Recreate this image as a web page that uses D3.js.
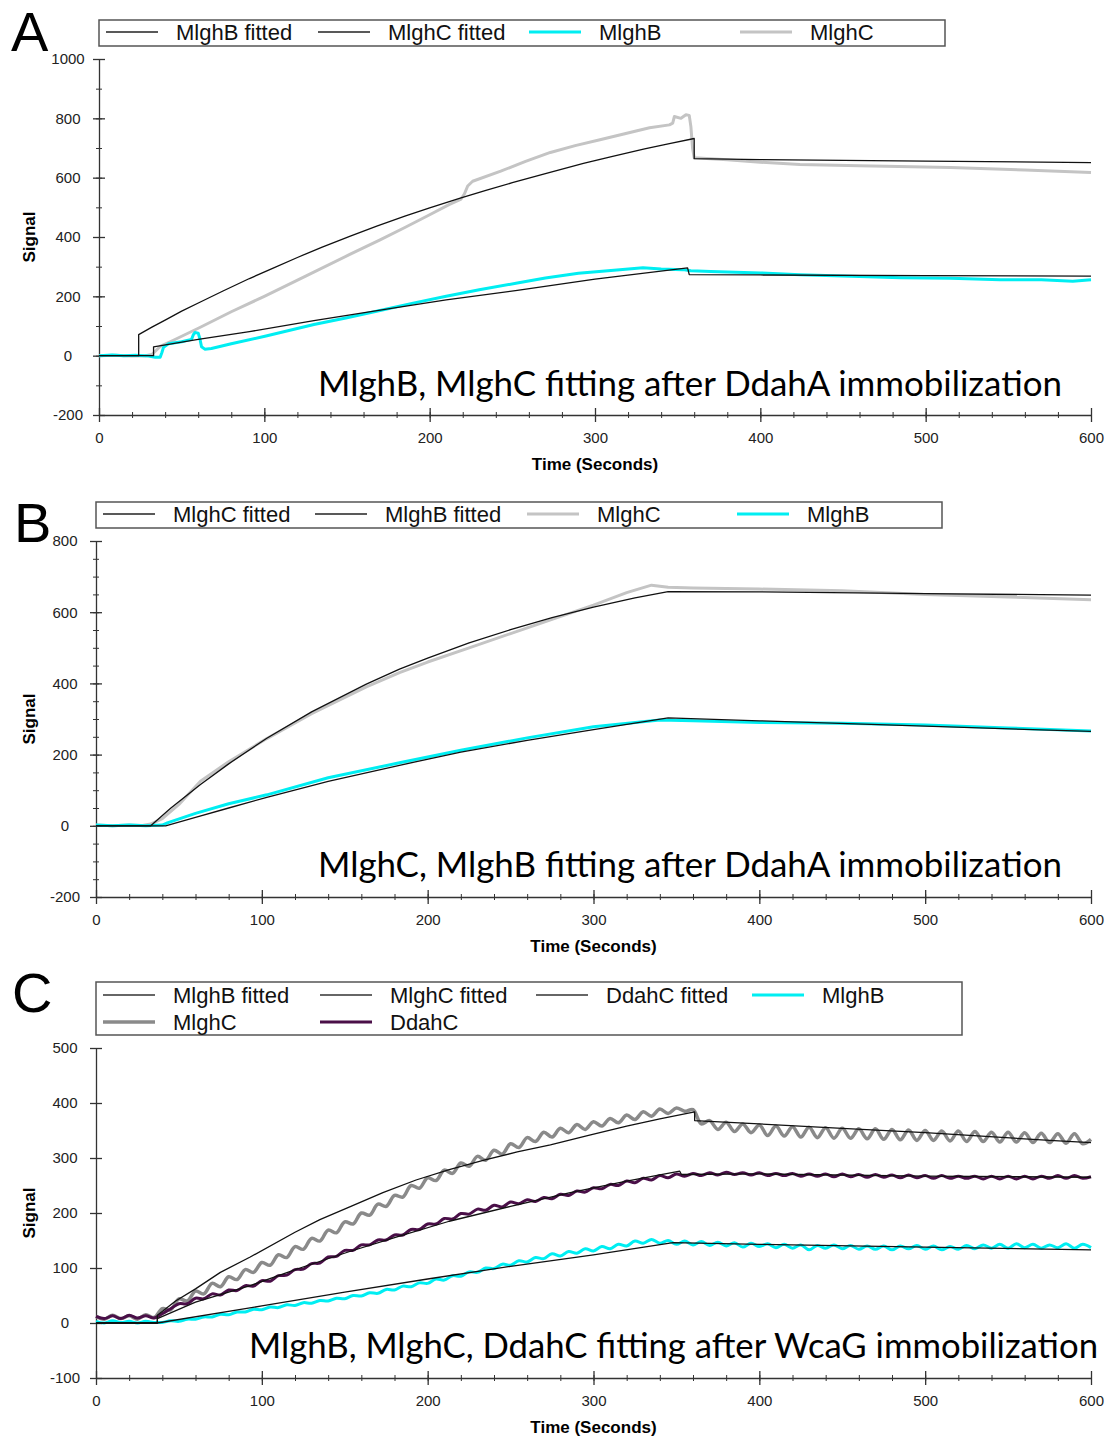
<!DOCTYPE html>
<html>
<head>
<meta charset="utf-8">
<script src="https://cdn.jsdelivr.net/npm/d3@7/dist/d3.min.js"></script>
<style>
  body { margin: 0; background: #fff; }
  svg text { font-family: "Liberation Sans", Arial, sans-serif; }
</style>
</head>
<body>
<svg id="svg" width="1113" height="1439"></svg>
<script>
// ---------- panel A : [seconds, signal] ----------
const aMlghBFit = [[0,0],[33,0],[33,30],[60,55],[91,81],[130,118],[172,155],[210,188],[253,220],[300,258],[356,296],[357,273],[400,272],[500,270],[600,268]];
const aMlghCFit = [[0,0],[24,0],[24,71],[32,96],[40,120],[50,150],[61,180],[75,218],[91,260],[105,294],[120,331],[135,366],[152,403],[168,437],[185,470],[200,498],[218,530],[234,557],[250,583],[270,614],[293,648],[310,671],[330,697],[345,715],[360,732],[360,664],[400,661],[500,656],[600,651]];
const aMlghB = [[0,0],[8,2],[15,0],[22,1],[30,-1],[34,-5],[37,-5],[38,10],[39,28],[42,40],[50,47],[56,55],[57,70],[58,78],[60,76],[61,58],[62,30],[64,22],[68,24],[80,40],[101,66],[130,105],[150,128],[172,155],[190,177],[210,200],[230,222],[253,245],[270,262],[290,278],[315,290],[329,296],[340,292],[353,290],[358,286],[370,284],[400,279],[424,273],[455,268],[485,263],[515,261],[545,256],[570,256],[589,251],[600,256]];
const aMlghC = [[0,0],[10,1],[20,-1],[28,0],[32,4],[37,31],[45,52],[61,95],[80,148],[100,200],[125,268],[152,342],[170,390],[185,432],[200,475],[212,510],[219,528],[221,545],[223,572],[226,588],[243,622],[258,655],[273,685],[288,708],[303,728],[318,748],[333,768],[345,778],[347,784],[348,806],[352,800],[355,812],[357,810],[358,772],[359,700],[360,667],[380,660],[400,652],[424,644],[460,640],[515,634],[560,626],[600,617]];

// ---------- panel B ----------
const bMlghCFit = [[0,0],[33,0],[45,49],[63,116],[80,174],[103,246],[130,320],[163,398],[183,440],[200,471],[225,514],[250,551],[275,585],[300,614],[325,640],[345,658],[400,657],[500,652],[600,648]];
const bMlghBFit = [[0,0],[42,0],[60,24],[80,50],[103,80],[140,125],[183,170],[220,207],[260,240],[300,270],[345,303],[400,295],[500,280],[600,265]];
const bMlghC = [[0,2],[10,0],[20,2],[28,1],[33,5],[40,20],[50,60],[63,125],[80,180],[103,245],[130,315],[163,390],[183,430],[200,460],[225,500],[250,540],[275,580],[300,620],[320,655],[335,676],[345,670],[360,668],[400,665],[450,660],[500,650],[550,643],[600,635]];
const bMlghB = [[0,2],[10,0],[20,2],[30,0],[40,2],[43,8],[60,35],[80,62],[103,87],[140,135],[183,177],[220,212],[260,247],[300,278],[340,297],[360,295],[400,290],[450,288],[500,283],[550,275],[600,266]];

// ---------- panel C (raw traces sampled every 5 s) ----------
const cTime = d3.range(0, 601, 5);
const cMlghC = [12,7,14,8,13,7,15,10,26,24,
  44,40,58,53,72,66,84,79,97,92,
  110,105,124,119,139,134,154,149,169,164,
  184,180,200,196,216,212,232,229,250,245,
  264,259,278,272,291,285,303,296,314,307,
  326,319,337,330,347,338,354,346,361,352,
  366,358,372,364,378,370,384,376,389,381,
  391,385,388,362,368,352,365,348,362,346,
  360,341,358,340,357,338,356,337,355,336,
  354,336,353,335,353,334,352,333,351,332,
  350,332,349,331,349,330,348,330,347,329,
  347,329,346,328,345,328,344,327,344,326,
  334];
const cDdahC = [12,8,13,8,14,9,13,9,17,26,
  35,35,45,44,53,51,60,59,68,67,
  77,76,86,87,97,98,108,109,120,121,
  132,132,142,142,151,151,160,160,170,170,
  180,180,190,189,199,198,207,205,214,211,
  220,217,224,221,228,226,234,232,240,238,
  246,244,252,250,258,255,263,260,268,264,
  271,267,272,268,273,269,274,270,273,269,
  273,268,272,268,272,267,271,267,271,266,
  271,266,270,265,270,265,269,264,269,264,
  268,263,268,263,267,263,267,262,267,262,
  267,262,267,262,267,263,268,263,268,263,
  266];
const cMlghB = [3,0,4,1,3,0,3,1,1,4,
  3,7,7,11,11,16,15,20,20,25,
  24,29,28,33,32,37,36,41,40,45,
  44,50,49,55,54,61,60,67,66,73,
  72,80,78,86,85,93,92,100,99,107,
  105,113,111,119,117,126,122,130,127,135,
  131,139,135,143,140,149,145,152,145,150,
  143,149,142,148,141,147,140,146,138,145,
  139,144,137,143,136,142,133,141,136,142,
  135,141,134,140,134,140,133,140,135,141,
  134,140,133,139,134,141,135,142,136,143,
  136,144,137,143,136,142,137,144,136,143,
  137];
const cMlghBFit = [[0,0],[37,0],[100,31],[150,56],[200,80],[250,103],[300,124],[348,146],[400,143],[500,138],[600,133]];
const cMlghCFit = [[0,0],[37,0],[37,14],[48,40],[60,62],[75,92],[93,120],[120,165],[135,188],[153,211],[173,237],[193,260],[213,279],[234,296],[254,311],[274,324],[297,341],[320,358],[340,371],[361,384],[361,368],[450,354],[500,346],[575,332],[600,328]];
const cDdahCFit = [[0,0],[37,0],[37,8],[60,38],[93,68],[123,100],[153,130],[183,158],[213,185],[250,212],[286,237],[320,258],[352,276],[353,270],[400,271],[500,267],[600,265]];

const xTicks = [0, 100, 200, 300, 400, 500, 600];
const cyan = '#00eef2', lightGrey = '#c4c4c4', midGrey = '#8a8a8a', purple = '#4a0f48';

const svg = d3.select('#svg');

function drawPanel(p) {
  const x = d3.scaleLinear().domain([0, 600]).range([p.left, p.right]);
  const y = d3.scaleLinear().domain(p.yDomain).range([p.bottom, p.top]);
  const g = svg.append('g');
  const axisCol = '#333';

  // minor ticks
  g.append('g').attr('transform', `translate(0,${p.bottom})`)
    .call(d3.axisBottom(x).tickValues(d3.range(0, 601, 20)).tickFormat('').tickSize(3).tickSizeOuter(0))
    .call(a => a.select('.domain').remove())
    .call(a => a.selectAll('line').attr('y1', -3).attr('stroke', axisCol));
  if (p.yMinor) {
    g.append('g').attr('transform', `translate(${p.left},0)`)
      .call(d3.axisLeft(y).tickValues(d3.range(p.yDomain[0], p.yDomain[1] + 1, p.yMinor)).tickFormat('').tickSize(3).tickSizeOuter(0))
      .call(a => a.select('.domain').remove())
      .call(a => a.selectAll('line').attr('x1', 3).attr('stroke', axisCol));
  }

  const yAx = g.append('g').attr('transform', `translate(${p.left},0)`)
    .call(d3.axisLeft(y).tickValues(d3.range(p.yDomain[0], p.yDomain[1] + 1, p.yStep)).tickFormat(d => String(d)).tickSize(6).tickPadding(10).tickSizeOuter(0));
  const xAx = g.append('g').attr('transform', `translate(0,${p.bottom})`)
    .call(d3.axisBottom(x).tickValues(xTicks).tickFormat(d => String(d)).tickSize(7).tickPadding(10).tickSizeOuter(0));
  [yAx, xAx].forEach(a => {
    a.attr('font-size', 15).attr('font-family', '"Liberation Sans", Arial, sans-serif');
    a.select('.domain').attr('stroke', axisCol).attr('stroke-width', 1.3);
    a.selectAll('.tick line').attr('stroke', axisCol).attr('stroke-width', 1.3);
    a.selectAll('.tick text').attr('fill', '#222');
  });
  yAx.selectAll('.tick line').attr('x1', 6);
  yAx.selectAll('.tick text').attr('x', -31).attr('text-anchor', 'middle');
  xAx.selectAll('.tick line').attr('y1', -7);

  // axis titles
  g.append('text')
    .attr('transform', `translate(35,${(p.top + p.bottom) / 2}) rotate(-90)`)
    .attr('text-anchor', 'middle')
    .style('font-size', '17px').style('font-weight', 700)
    .text('Signal');
  g.append('text')
    .attr('x', (p.left + p.right) / 2).attr('y', p.bottom + 55)
    .attr('text-anchor', 'middle')
    .style('font-size', '17px').style('font-weight', 700)
    .text('Time (Seconds)');

  // traces then fits
  p.series.forEach(s => {
    const line = d3.line().x(d => x(d[0])).y(d => y(d[1]))
      .curve(s.smooth ? d3.curveCatmullRom.alpha(0.5) : d3.curveLinear);
    g.append('path').datum(s.data)
      .attr('d', line)
      .attr('fill', 'none')
      .attr('stroke', s.color)
      .attr('stroke-width', s.width)
      .attr('stroke-linejoin', 'round');
  });

  // legend
  const lb = p.legend;
  g.append('rect')
    .attr('x', lb.x0).attr('y', lb.y0)
    .attr('width', lb.x1 - lb.x0).attr('height', lb.y1 - lb.y0)
    .attr('fill', '#fff').attr('stroke', '#555').attr('stroke-width', 1.5);
  lb.items.forEach(it => {
    g.append('line')
      .attr('x1', it.x).attr('x2', it.x + 52)
      .attr('y1', it.y).attr('y2', it.y)
      .attr('stroke', it.color).attr('stroke-width', it.width);
    g.append('text')
      .attr('x', it.x + 70).attr('y', it.y + 8)
      .style('font-size', '22px').attr('fill', '#111')
      .text(it.label);
  });

  // panel letter & caption
  g.append('text')
    .attr('x', p.letterX).attr('y', p.letterY)
    .style('font-size', '56px')
    .text(p.letter);
  g.append('text')
    .attr('x', p.caption.x).attr('y', p.caption.y)
    .attr('textLength', p.caption.len).attr('lengthAdjust', 'spacingAndGlyphs')
    .style('font-family', 'Lato, "Open Sans", sans-serif').style('font-size', '34px')
    .attr('fill', '#000')
    .text(p.caption.text);
}

drawPanel({
  letter: 'A', letterX: 11, letterY: 51,
  left: 99, right: 1091, top: 59, bottom: 415,
  yDomain: [-200, 1000], yStep: 200, yMinor: 100,
  series: [
    { data: aMlghC, color: lightGrey, width: 3 },
    { data: aMlghB, color: cyan, width: 3 },
    { data: aMlghBFit, color: '#111', width: 1.3 },
    { data: aMlghCFit, color: '#111', width: 1.3 }
  ],
  legend: { x0: 99, y0: 20, x1: 945, y1: 46, items: [
    { label: 'MlghB fitted', color: '#222', width: 1.4, x: 106, y: 32 },
    { label: 'MlghC fitted', color: '#222', width: 1.4, x: 318, y: 32 },
    { label: 'MlghB', color: cyan, width: 3, x: 529, y: 32 },
    { label: 'MlghC', color: lightGrey, width: 3, x: 740, y: 32 }
  ] },
  caption: { text: 'MlghB, MlghC fitting after DdahA immobilization', x: 318, y: 396, len: 744 }
});

drawPanel({
  letter: 'B', letterX: 14, letterY: 542,
  left: 96, right: 1091, top: 541, bottom: 897,
  yDomain: [-200, 800], yStep: 200, yMinor: 50,
  series: [
    { data: bMlghC, color: lightGrey, width: 3 },
    { data: bMlghB, color: cyan, width: 3 },
    { data: bMlghCFit, color: '#111', width: 1.3 },
    { data: bMlghBFit, color: '#111', width: 1.3 }
  ],
  legend: { x0: 96, y0: 502, x1: 942, y1: 528, items: [
    { label: 'MlghC fitted', color: '#222', width: 1.4, x: 103, y: 514 },
    { label: 'MlghB fitted', color: '#222', width: 1.4, x: 315, y: 514 },
    { label: 'MlghC', color: lightGrey, width: 3, x: 527, y: 514 },
    { label: 'MlghB', color: cyan, width: 3, x: 737, y: 514 }
  ] },
  caption: { text: 'MlghC, MlghB fitting after DdahA immobilization', x: 318, y: 877, len: 744 }
});

drawPanel({
  letter: 'C', letterX: 12, letterY: 1012,
  left: 96, right: 1091, top: 1048, bottom: 1378,
  yDomain: [-100, 500], yStep: 100, yMinor: 0,
  series: [
    { data: cTime.map((t, i) => [t, cMlghC[i]]), color: midGrey, width: 3.5, smooth: true },
    { data: cTime.map((t, i) => [t, cDdahC[i]]), color: purple, width: 3, smooth: true },
    { data: cTime.map((t, i) => [t, cMlghB[i]]), color: cyan, width: 3, smooth: true },
    { data: cMlghBFit, color: '#111', width: 1.3 },
    { data: cMlghCFit, color: '#111', width: 1.3 },
    { data: cDdahCFit, color: '#111', width: 1.3 }
  ],
  legend: { x0: 96, y0: 982, x1: 962, y1: 1035, items: [
    { label: 'MlghB fitted', color: '#333', width: 1.4, x: 103, y: 995 },
    { label: 'MlghC fitted', color: '#333', width: 1.4, x: 320, y: 995 },
    { label: 'DdahC fitted', color: '#333', width: 1.4, x: 536, y: 995 },
    { label: 'MlghB', color: cyan, width: 3, x: 752, y: 995 },
    { label: 'MlghC', color: midGrey, width: 3.5, x: 103, y: 1022 },
    { label: 'DdahC', color: purple, width: 3, x: 320, y: 1022 }
  ] },
  caption: { text: 'MlghB, MlghC, DdahC fitting after WcaG immobilization', x: 249, y: 1358, len: 849 }
});
</script>
</body>
</html>
